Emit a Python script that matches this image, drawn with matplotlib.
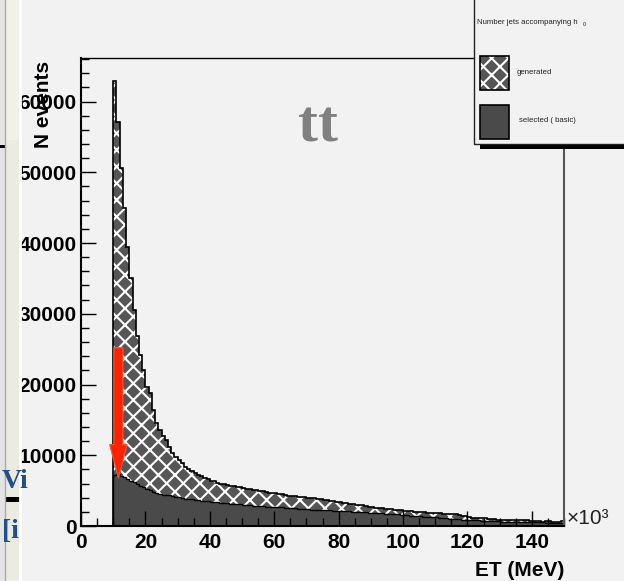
import numpy as np
import matplotlib
matplotlib.use('Agg')
import matplotlib.pyplot as plt
from matplotlib.patches import Rectangle, FancyArrowPatch
from matplotlib.ticker import MultipleLocator

plt.rcParams['font.family'] = ['Liberation Sans', 'DejaVu Sans']
plt.rcParams['hatch.linewidth'] = 1.5

# jet ET histogram, 1 GeV bins from 10 to 150 (units of 10^3 MeV)
bin_edges = np.arange(10, 151)
generated = [
    62950, 57050, 50600, 44900, 39500, 35000, 30500, 26800, 24200, 22000,
    19700, 18800, 16400, 14600, 13600, 12700, 12100, 11200, 10300, 9800,
    9300, 8900, 8400, 8100, 7800, 7500, 7200, 7000, 6800, 6600,
    6400, 6300, 6100, 6000, 5900, 5850, 5700, 5600, 5560, 5450,
    5400, 5300, 5250, 5150, 5050, 5000, 4900, 4850, 4700, 4650,
    4600, 4550, 4500, 4400, 4300, 4250, 4200, 4150, 4150, 4100,
    4000, 3950, 3900, 3850, 3750, 3700, 3650, 3600, 3500, 3450,
    3400, 3300, 3250, 3150, 3050, 3000, 2950, 2900, 2800, 2750,
    2650, 2600, 2550, 2500, 2450, 2400, 2350, 2300, 2250, 2200,
    2150, 2100, 2050, 2000, 2000, 2000, 1950, 1900, 1880, 1850,
    1800, 1780, 1750, 1700, 1700, 1700, 1650, 1550, 1450, 1350,
    1250, 1200, 1150, 1100, 1100, 1080, 1050, 1000, 950, 900,
    870, 850, 830, 820, 820, 850, 830, 800, 780, 760,
    700, 650, 640, 620, 700, 650, 620, 610, 600, 700,
]
selected = [
    7200, 7300, 7100, 6900, 6650, 6400, 6150, 5950, 5700, 5500,
    5300, 5050, 4800, 4650, 4550, 4450, 4400, 4350, 4250, 4150,
    4050, 3950, 3850, 3800, 3750, 3700, 3650, 3600, 3550, 3500,
    3450, 3400, 3350, 3300, 3250, 3200, 3150, 3130, 3110, 3050,
    3000, 2970, 2930, 2880, 2850, 2810, 2780, 2750, 2730, 2700,
    2680, 2650, 2620, 2600, 2570, 2550, 2500, 2450, 2400, 2380,
    2350, 2330, 2310, 2280, 2260, 2250, 2230, 2200, 2180, 2150,
    2120, 2100, 2080, 2060, 2040, 2030, 2000, 1970, 1940, 1900,
    1870, 1840, 1810, 1780, 1750, 1720, 1700, 1670, 1640, 1600,
    1560, 1520, 1480, 1440, 1400, 1360, 1340, 1330, 1320, 1300,
    1250, 1200, 1150, 1100, 1050, 1000, 950, 920, 900, 880,
    860, 840, 820, 800, 770, 740, 710, 690, 670, 650,
    630, 620, 610, 600, 590, 580, 570, 560, 550, 540,
    530, 520, 510, 500, 490, 480, 470, 460, 450, 440,
]
# cut marker
cut_x = 11.6
cut_from = 25200
cut_to = 6800

bg = '#f2f2f2'
fig = plt.figure(figsize=(6.24, 5.81), dpi=100, facecolor=bg)
ax = fig.add_axes([81/624, 1-526/581, 483/624, 468/581], facecolor=bg)

ax.stairs(generated, bin_edges, fill=True, facecolor='#565656', edgecolor='white',
          hatch='xx', linewidth=0)
ax.stairs(generated, bin_edges, color='black', linewidth=1.2, baseline=0)
ax.stairs(selected, bin_edges, fill=True, facecolor='#4a4a4a', edgecolor='black',
          linewidth=1.0)

arrow = FancyArrowPatch((cut_x, cut_from), (cut_x, cut_to),
                        arrowstyle='simple,head_length=24,head_width=12.5,tail_width=6.5',
                        mutation_scale=1, shrinkA=0, shrinkB=0,
                        facecolor='#ff2200', edgecolor='#ff5530', linewidth=0.8, zorder=4)
ax.add_patch(arrow)

ax.set_xlim(0, 150)
ax.set_ylim(0, 66150)
ax.xaxis.set_major_locator(MultipleLocator(20))
ax.xaxis.set_minor_locator(MultipleLocator(5))
ax.yaxis.set_major_locator(MultipleLocator(10000))
ax.yaxis.set_minor_locator(MultipleLocator(2000))
ax.tick_params(which='both', direction='in', top=False, right=False, color='black')
ax.tick_params(which='major', length=11, width=1)
ax.tick_params(which='minor', length=5.5, width=1)
ax.tick_params(axis='y', pad=3, labelsize=15)
ax.tick_params(axis='x', pad=5, labelsize=15)
for lab in ax.get_xticklabels() + ax.get_yticklabels():
    lab.set_fontweight('bold')
for side in ['left', 'bottom', 'top']:
    ax.spines[side].set_color('black')
ax.spines['left'].set_linewidth(1.5)
ax.spines['bottom'].set_linewidth(1.5)
ax.spines['top'].set_linewidth(1.0)
ax.spines['right'].set_color('#555555')
ax.spines['right'].set_linewidth(1.5)

ax.set_xlabel('ET (MeV)', fontsize=15, fontweight='bold', ha='right')
ax.xaxis.set_label_coords(1.0, -0.075)
ax.set_ylabel('N events', fontsize=15, fontweight='bold', ha='center')
ax.yaxis.set_label_coords(-0.058, 0.90)
ax.yaxis.label.set_zorder(10)

# overlay in pixel units for the boxes and loose text
ov = fig.add_axes([0, 0, 1, 1], facecolor='none', zorder=5)
ov.set_xlim(0, 624)
ov.set_ylim(581, 0)
ov.axis('off')

ov.text(567, 519, '×10³', fontsize=15, ha='left', va='center', color='#222222')
ov.text(318, 128, 'tt', fontsize=43, fontweight='bold', color='#808080',
        family='Liberation Serif', ha='center', va='center')

# legend box with drop shadow
ov.add_patch(Rectangle((480, 144), 150, 4.5, facecolor='black', edgecolor='none'))
ov.add_patch(Rectangle((474, -5), 160, 149, facecolor=bg, edgecolor='#222222', linewidth=1))
ov.text(477, 22, 'Number jets accompanying h', fontsize=5.6, va='center', color='#222222')
ov.text(582.5, 25, '0', fontsize=4, va='center', color='#222222')
ov.add_patch(Rectangle((480, 56), 29, 34, facecolor='#565656', edgecolor='white',
                       hatch='xx', linewidth=0))
ov.add_patch(Rectangle((480, 56), 29, 34, facecolor='none', edgecolor='black', linewidth=1.2))
ov.text(517, 72, 'generated', fontsize=5.6, va='center', color='#222222')
ov.add_patch(Rectangle((480, 105), 29, 34, facecolor='#4a4a4a', edgecolor='black', linewidth=1.2))
ov.text(519, 121, 'selected ( basic)', fontsize=5.6, va='center', color='#222222')

# leftover strip at the left edge
ov.add_patch(Rectangle((0, 0), 5, 581, facecolor='#e4e4e4', edgecolor='none'))
ov.add_patch(Rectangle((5, 0), 15, 581, facecolor='#f1f1ea', edgecolor='none'))
ov.plot([5, 5], [0, 581], color='#aaaaaa', linewidth=1)
ov.plot([20, 20], [0, 581], color='white', linewidth=2)
ov.add_patch(Rectangle((6, 140), 13, 440, facecolor='#ebebe0', edgecolor='none'))
ov.add_patch(Rectangle((0, 145), 5, 3, facecolor='black', edgecolor='none'))
ov.add_patch(Rectangle((6, 497), 14, 5, facecolor='black', edgecolor='none'))
clip = Rectangle((5, 0), 14, 581, transform=ov.transData)
for s, y in [('Vi', 482), ('[i', 531)]:
    t = ov.text(2, y, s, fontsize=20, fontweight='bold', family='Liberation Serif',
                color='#1d4f91', va='center', ha='left')
    t.set_clip_path(clip)

fig.savefig('out.png', dpi=100, facecolor=bg)
